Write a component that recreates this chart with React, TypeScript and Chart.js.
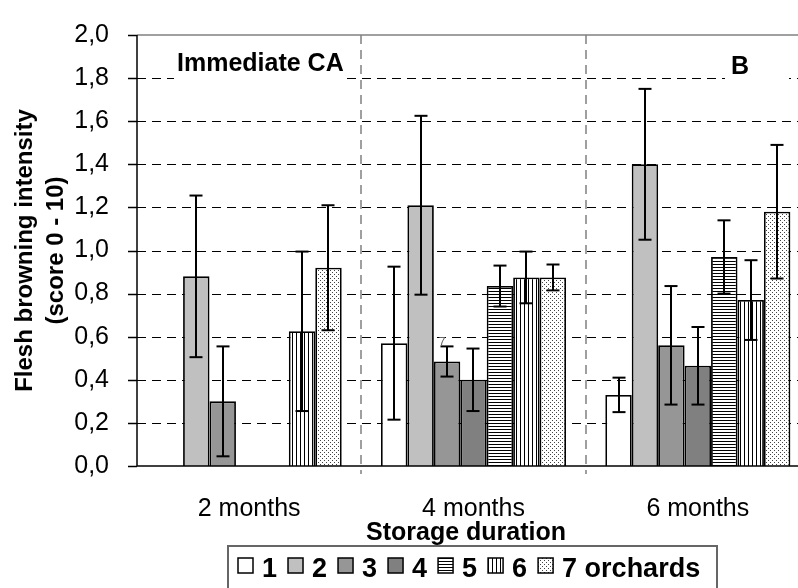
import React, { useEffect, useRef } from 'react';
import { Chart, registerables } from 'chart.js';

Chart.register(...registerables);

// ---------- data ----------
const categories = ['2 months', '4 months', '6 months'];
const seriesNames = ['1', '2', '3', '4', '5', '6', '7 orchards'];

const orchard1 = [0, 0.57, 0.33];
const orchard2 = [0.88, 1.21, 1.4];
const orchard3 = [0.3, 0.485, 0.56];
const orchard4 = [0, 0.4, 0.465];
const orchard5 = [0, 0.835, 0.97];
const orchard6 = [0.625, 0.875, 0.77];
const orchard7 = [0.92, 0.875, 1.18];

const error1 = [0, 0.355, 0.08];
const error2 = [0.375, 0.415, 0.35];
const error3 = [0.255, 0.07, 0.275];
const error4 = [0, 0.145, 0.18];
const error5 = [0, 0.095, 0.17];
const error6 = [0.37, 0.12, 0.185];
const error7 = [0.29, 0.06, 0.31];

const seriesValues = [orchard1, orchard2, orchard3, orchard4, orchard5, orchard6, orchard7];
const seriesErrors = [error1, error2, error3, error4, error5, error6, error7];

const yMin = 0;
const yMax = 2;
const yStep = 0.2;

const panelLeftLabel = 'Immediate CA';
const panelRightLabel = 'B';
const yTitleLines = ['Flesh browning intensity', '(score 0 - 10)'];
const xTitle = 'Storage duration';
const noteText = '7';
const noteSeries = 2;
const noteIndex = 1;

const FONT = '"Liberation Sans", Arial, Helvetica, sans-serif';

function makePattern(kind: 'h' | 'v' | 'dots'): CanvasPattern | string {
  const c = document.createElement('canvas');
  const size = kind === 'h' ? 3 : 4;
  c.width = 4;
  c.height = size;
  const g = c.getContext('2d');
  if (!g) return '#fff';
  g.fillStyle = '#fff';
  g.fillRect(0, 0, c.width, c.height);
  g.fillStyle = '#000';
  if (kind === 'h') g.fillRect(0, 0, 4, 1);
  else if (kind === 'v') g.fillRect(0, 0, 1, 4);
  else {
    g.fillStyle = '#444';
    g.fillRect(0, 0, 1, 1);
    g.fillRect(2, 2, 1, 1);
  }
  const p = g.createPattern(c, 'repeat');
  return p || '#fff';
}

function line(ctx: CanvasRenderingContext2D, x1: number, y1: number, x2: number, y2: number) {
  ctx.beginPath();
  ctx.moveTo(x1, y1);
  ctx.lineTo(x2, y2);
  ctx.stroke();
}

const decorPlugin = {
  id: 'decor',
  beforeDraw(chart: any) {
    const { ctx, width, height } = chart;
    ctx.save();
    ctx.fillStyle = '#fff';
    ctx.fillRect(0, 0, width, height);
    ctx.restore();
  },
  beforeDatasetsDraw(chart: any) {
    const { ctx, chartArea, scales } = chart;
    const { left, right, top, bottom } = chartArea;
    const x = scales.x;
    const y = scales.y;
    ctx.save();
    // horizontal dashed grid lines
    ctx.strokeStyle = '#000';
    ctx.lineWidth = 1;
    ctx.setLineDash([9, 6]);
    y.ticks.forEach((t: any) => {
      if (t.value <= yMin + 1e-9 || t.value >= yMax - 1e-9) return;
      const py = Math.round(y.getPixelForValue(t.value)) + 0.5;
      line(ctx, left, py, right, py);
    });
    // vertical dashed separators between categories
    ctx.strokeStyle = '#808080';
    ctx.lineWidth = 1.5;
    for (let i = 0; i < categories.length - 1; i++) {
      const px = Math.round((x.getPixelForValue(i) + x.getPixelForValue(i + 1)) / 2);
      line(ctx, px, top, px, bottom + 8);
    }
    ctx.setLineDash([]);
    // top frame line
    ctx.strokeStyle = '#808080';
    ctx.lineWidth = 1.5;
    line(ctx, left, top, right, top);

    // panel labels with white boxes
    ctx.font = `bold 25px ${FONT}`;
    ctx.textBaseline = 'alphabetic';
    ctx.textAlign = 'left';
    const lx = left + 40;
    const lw = ctx.measureText(panelLeftLabel).width;
    ctx.fillStyle = '#fff';
    ctx.fillRect(lx - 3, top + 10, lw + 6, 40);
    ctx.fillStyle = '#000';
    ctx.fillText(panelLeftLabel, lx, top + 36);

    const bx = left + 594;
    ctx.fillStyle = '#fff';
    ctx.fillRect(bx - 6, top + 14, 64, 38);
    ctx.fillStyle = '#000';
    ctx.fillText(panelRightLabel, bx, top + 39);
    ctx.restore();
  },
  afterDatasetsDraw(chart: any) {
    const { ctx, chartArea, scales } = chart;
    const { left, right, top, bottom } = chartArea;
    const y = scales.y;
    ctx.save();
    // error bars
    ctx.strokeStyle = '#000';
    ctx.lineWidth = 2;
    seriesValues.forEach((vals, si) => {
      const meta = chart.getDatasetMeta(si);
      vals.forEach((v, i) => {
        const e = seriesErrors[si][i];
        if (!e) return;
        const el = meta.data[i];
        const px = Math.round(el.x);
        const yt = y.getPixelForValue(v + e);
        const yb = y.getPixelForValue(v - e);
        line(ctx, px, yt, px, yb);
        line(ctx, px - 6.5, yt, px + 6.5, yt);
        line(ctx, px - 6.5, yb, px + 6.5, yb);
      });
    });
    // note label
    const nel = chart.getDatasetMeta(noteSeries).data[noteIndex];
    const nv = seriesValues[noteSeries][noteIndex] + seriesErrors[noteSeries][noteIndex];
    ctx.fillStyle = '#666';
    ctx.font = `12px ${FONT}`;
    ctx.textAlign = 'center';
    ctx.textBaseline = 'bottom';
    ctx.fillText(noteText, nel.x - 5, y.getPixelForValue(nv) + 2);

    // axes
    ctx.strokeStyle = '#000';
    ctx.lineWidth = 1.5;
    line(ctx, left, top, left, bottom);
    line(ctx, left, bottom, right, bottom);
    y.ticks.forEach((t: any) => {
      const py = Math.round(y.getPixelForValue(t.value)) + 0.5;
      line(ctx, left - 9, py, left, py);
    });
    ctx.restore();
  },
  afterDraw(chart: any) {
    const { ctx, chartArea } = chart;
    const { top, bottom } = chartArea;
    ctx.save();
    // y title
    ctx.fillStyle = '#000';
    ctx.font = `bold 24px ${FONT}`;
    ctx.textAlign = 'center';
    ctx.textBaseline = 'middle';
    const midY = (top + bottom) / 2;
    const cxs = [25, 56];
    yTitleLines.forEach((t, i) => {
      ctx.save();
      ctx.translate(cxs[i], midY);
      ctx.rotate(-Math.PI / 2);
      ctx.fillText(t, 0, 0);
      ctx.restore();
    });
    // x title
    ctx.font = `bold 25px ${FONT}`;
    ctx.textBaseline = 'alphabetic';
    ctx.fillText(xTitle, 466, 540);

    // legend
    const fills = chart.data.datasets.map((d: any) => d.backgroundColor);
    ctx.strokeStyle = '#666';
    ctx.lineWidth = 2;
    ctx.strokeRect(228, 546, 489, 80);
    ctx.font = `bold 27px ${FONT}`;
    ctx.textAlign = 'left';
    let cx = 238;
    seriesNames.forEach((name, i) => {
      ctx.fillStyle = fills[i];
      ctx.fillRect(cx, 558, 15, 15);
      ctx.strokeStyle = '#000';
      ctx.lineWidth = 1.5;
      ctx.strokeRect(cx, 558, 15, 15);
      ctx.fillStyle = '#000';
      ctx.fillText(name, cx + 24, 577);
      cx += 24 + ctx.measureText(name).width + 11;
    });
    ctx.restore();
  },
};

export default function App() {
  const ref = useRef<HTMLCanvasElement | null>(null);
  useEffect(() => {
    const canvas = ref.current;
    if (!canvas) return;
    const fills: any[] = ['#ffffff', '#c0c0c0', '#969696', '#808080', makePattern('h'), makePattern('v'), makePattern('dots')];
    const chart = new Chart(canvas, {
      type: 'bar',
      data: {
        labels: categories,
        datasets: seriesValues.map((d, i) => ({
          label: seriesNames[i],
          data: d,
          backgroundColor: fills[i],
          borderColor: '#000',
          borderWidth: 1.8,
          categoryPercentage: 0.825,
          barPercentage: 1,
        })),
      },
      options: {
        responsive: false,
        animation: false,
        devicePixelRatio: 1,
        layout: { padding: { top: 21, right: 10, bottom: 0, left: 0 } },
        plugins: { legend: { display: false }, tooltip: { enabled: false }, title: { display: false } },
        scales: {
          x: {
            grid: { display: false },
            border: { display: false },
            ticks: { font: { family: FONT, size: 25 }, color: '#000', padding: 20, maxRotation: 0, autoSkip: false },
            afterFit(s: any) { s.height = 122; },
          },
          y: {
            min: yMin,
            max: yMax,
            grid: { display: false },
            border: { display: false },
            ticks: {
              stepSize: yStep,
              font: { family: FONT, size: 25 },
              color: '#000',
              padding: 20,
              callback: (v: any) => Number(v).toFixed(1).replace('.', ','),
            },
            afterFit(s: any) { s.width = 137; },
          },
        },
      } as any,
      plugins: [decorPlugin],
    });
    return () => chart.destroy();
  }, []);
  return (
    <div style={{ position: 'fixed', left: 0, top: 0, width: 798, height: 588, overflow: 'hidden', background: '#fff' }}>
      <canvas ref={ref} width={820} height={588} style={{ display: 'block' }} />
    </div>
  );
}
